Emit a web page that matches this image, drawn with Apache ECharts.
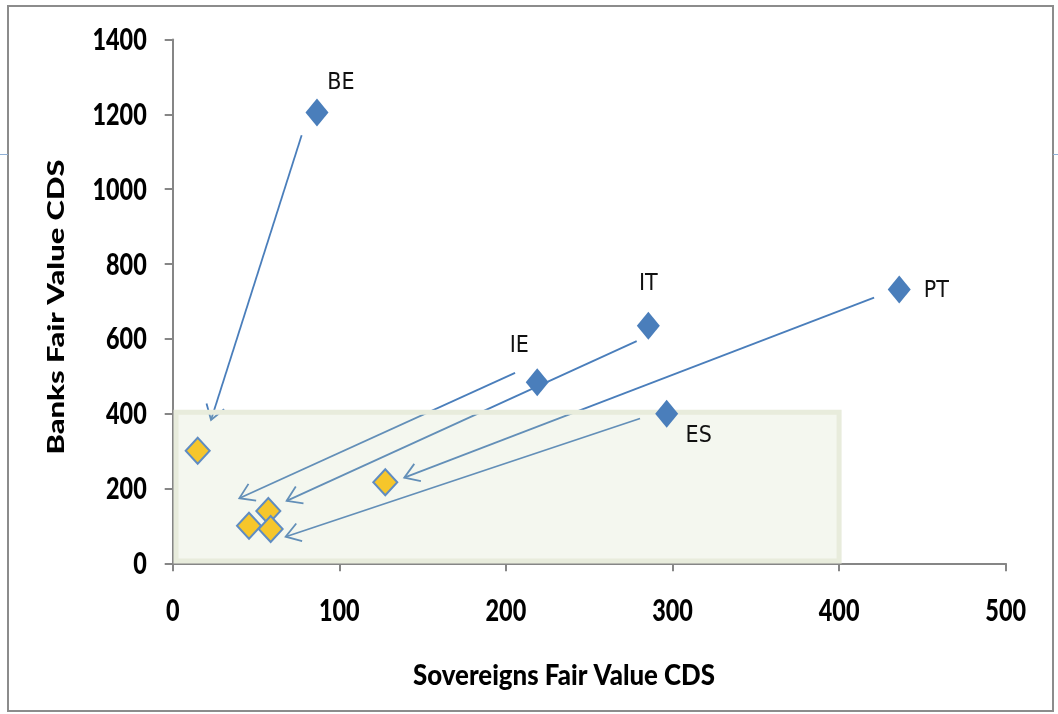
<!DOCTYPE html>
<html><head><meta charset="utf-8">
<script src="https://cdn.jsdelivr.net/npm/echarts@6/dist/echarts.min.js"></script>
<style>html,body{margin:0;padding:0;background:#fff}#c{width:1058px;height:714px}</style>
</head><body><div id="c"></div>
<script>
// ---- data ----
const xTickValues = [0, 100, 200, 300, 400, 500];
const yTickValues = [0, 200, 400, 600, 800, 1000, 1200, 1400];
const xAxisTitle = 'Sovereigns Fair Value CDS';
const yAxisTitle = 'Banks Fair Value CDS';
const countries = ['BE', 'IT', 'IE', 'PT', 'ES'];
const sovereignCDS = [86.6, 285.5, 218.8, 436.1, 296.5];
const bankCDS = [1205, 635, 484, 732, 400];
const newSovereignCDS = [15.0, 127.6, 57.4, 45.8, 58.8];
const newBankCDS = [300.6, 216.4, 139.7, 100.5, 91.6];
const arrowFromX = [77.4, 278.5, 205.5, 421.0, 280.5];
const arrowFromY = [1144, 594, 509, 710, 387];
const arrowToX = [23.0, 68.4, 40.0, 139.0, 67.8];
const arrowToY = [383, 167, 174, 229, 71];
const zoneX = [2, 400];
const zoneY = [6, 404];

// ---- style ----
const BOLD_FONT = 'Lato';
const BOLD_WEIGHT = 900;
const LABEL_FONT = '"DejaVu Sans Condensed","Liberation Sans",sans-serif';
const BLUE = '#4a7ebb';
const SQUISH = 0.78;
const labelOffsets = { BE: [24, -29], IT: [0, -42], IE: [-18, -36], PT: [37, 2], ES: [32, 22] };

const chart = echarts.init(document.getElementById('c'), null, { renderer: 'canvas' });

const axisCommon = {
  type: 'value',
  splitLine: { show: false },
  axisLine: { show: true, lineStyle: { color: '#868686', width: 2 } },
  axisTick: { show: true, length: 8, lineStyle: { color: '#868686', width: 2 } },
  axisLabel: { show: false }
};

const arrowData = arrowFromX.map((v, i) => [v, arrowFromY[i], arrowToX[i], arrowToY[i]]);

chart.setOption({
  animation: false,
  backgroundColor: '#fff',
  grid: { left: 172.7, right: 52.3, top: 39.5, bottom: 150.7, containLabel: false },
  xAxis: Object.assign({}, axisCommon, {
    min: xTickValues[0], max: xTickValues[xTickValues.length - 1], interval: xTickValues[1] - xTickValues[0]
  }),
  yAxis: Object.assign({}, axisCommon, {
    min: yTickValues[0], max: yTickValues[yTickValues.length - 1], interval: yTickValues[1] - yTickValues[0]
  }),
  series: [
    {
      type: 'custom', name: 'arrows', clip: false,
      data: arrowData,
      encode: { x: [0, 2], y: [1, 3] },
      renderItem: function (params, api) {
        const p1 = api.coord([api.value(0), api.value(1)]);
        const p2 = api.coord([api.value(2), api.value(3)]);
        const dx = p1[0] - p2[0], dy = p1[1] - p2[1];
        const L = Math.hypot(dx, dy), ux = dx / L, uy = dy / L;
        const a = 33 * Math.PI / 180, len = 17;
        const rot = (x, y, t) => [x * Math.cos(t) - y * Math.sin(t), x * Math.sin(t) + y * Math.cos(t)];
        const r1 = rot(ux, uy, a), r2 = rot(ux, uy, -a);
        return {
          type: 'group', children: [
            { type: 'line', shape: { x1: p1[0], y1: p1[1], x2: p2[0], y2: p2[1] }, style: { stroke: BLUE, lineWidth: 1.8 } },
            { type: 'polyline', shape: { points: [[p2[0] + r1[0] * len, p2[1] + r1[1] * len], [p2[0], p2[1]], [p2[0] + r2[0] * len, p2[1] + r2[1] * len]] }, style: { stroke: BLUE, lineWidth: 1.8, fill: null } }
          ]
        };
      }
    },
    {
      type: 'scatter', name: 'Before',
      symbol: 'diamond', symbolSize: [23, 28],
      itemStyle: { color: BLUE, opacity: 1 },
      data: sovereignCDS.map((v, i) => ({
        name: countries[i], value: [v, bankCDS[i]],
        label: { show: true, formatter: countries[i], position: 'inside', offset: labelOffsets[countries[i]],
          fontFamily: LABEL_FONT, fontSize: 23, color: '#111' }
      }))
    },
    {
      type: 'custom', name: 'zone', clip: false,
      data: [[zoneX[0], zoneY[0], zoneX[1], zoneY[1]]],
      encode: { x: [0, 2], y: [1, 3] },
      renderItem: function (params, api) {
        const a = api.coord([api.value(0), api.value(3)]);
        const b = api.coord([api.value(2), api.value(1)]);
        return {
          type: 'group', children: [
            { type: 'rect', shape: { x: a[0], y: a[1], width: b[0] - a[0], height: b[1] - a[1] }, style: { fill: 'rgba(200,215,175,0.2)' } },
            { type: 'rect', shape: { x: a[0], y: a[1], width: b[0] - a[0], height: b[1] - a[1] }, style: { fill: null, stroke: '#e8ecdc', lineWidth: 5 } }
          ]
        };
      }
    },
    {
      type: 'scatter', name: 'After',
      symbol: 'diamond', symbolSize: [24, 26],
      itemStyle: { color: '#f6c62b', borderColor: '#5f8cc2', borderWidth: 2, opacity: 1 },
      data: newSovereignCDS.map((v, i) => [v, newBankCDS[i]])
    }
  ]
});

// ---- axis text (squeezed horizontally like the reference) ----
const measureCtx = document.createElement('canvas').getContext('2d');
function textWidth(str, font) { measureCtx.font = font; return measureCtx.measureText(str).width; }
const TICK_SIZE = 30, TITLE_SIZE = 28;
const titleFont = BOLD_WEIGHT + ' ' + TITLE_SIZE + 'px ' + BOLD_FONT;

const y0px = chart.convertToPixel({ xAxisIndex: 0 }, 0);
const graphics = [
  { type: 'rect', shape: { x: 8, y: 6, width: 1045, height: 705 }, style: { fill: null, stroke: '#8c8c8c', lineWidth: 2 }, silent: true },
  { type: 'line', shape: { x1: 0, y1: 154.5, x2: 8, y2: 154.5 }, style: { stroke: '#8fb0d6', lineWidth: 1 } },
  { type: 'line', shape: { x1: 1053, y1: 154.5, x2: 1058, y2: 154.5 }, style: { stroke: '#8fb0d6', lineWidth: 1 } }
];
yTickValues.forEach(v => {
  graphics.push({ type: 'text', x: y0px - 26, y: chart.convertToPixel({ yAxisIndex: 0 }, v) + 1, scaleX: SQUISH,
    style: { text: String(v), fontFamily: BOLD_FONT, fontWeight: BOLD_WEIGHT, fontSize: TICK_SIZE, fill: '#000', align: 'right', verticalAlign: 'middle' } });
});
xTickValues.forEach(v => {
  graphics.push({ type: 'text', x: chart.convertToPixel({ xAxisIndex: 0 }, v), y: 611, scaleX: SQUISH,
    style: { text: String(v), fontFamily: BOLD_FONT, fontWeight: BOLD_WEIGHT, fontSize: TICK_SIZE, fill: '#000', align: 'center', verticalAlign: 'middle' } });
});
graphics.push({ type: 'text', x: 564, y: 676, scaleX: 302 / textWidth(xAxisTitle, titleFont),
  style: { text: xAxisTitle, fontFamily: BOLD_FONT, fontWeight: BOLD_WEIGHT, fontSize: TITLE_SIZE, fill: '#000', align: 'center', verticalAlign: 'middle' } });
graphics.push({ type: 'text', x: 57, y: 307, rotation: Math.PI / 2, scaleX: 295 / textWidth(yAxisTitle, titleFont), scaleY: SQUISH,
  style: { text: yAxisTitle, fontFamily: BOLD_FONT, fontWeight: BOLD_WEIGHT, fontSize: TITLE_SIZE, fill: '#000', align: 'center', verticalAlign: 'middle' } });
chart.setOption({ graphic: graphics });
</script>
</body></html>
